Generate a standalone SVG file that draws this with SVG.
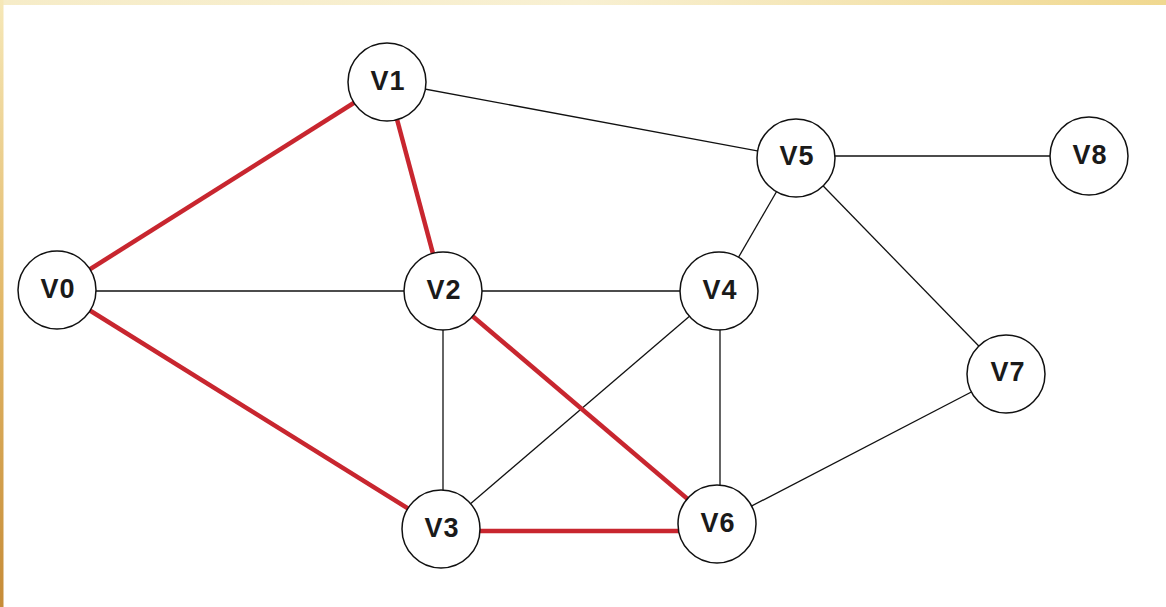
<svg xmlns="http://www.w3.org/2000/svg" width="1166" height="607" viewBox="0 0 1166 607">
<defs>
<linearGradient id="topg" x1="0" y1="0" x2="1" y2="0">
<stop offset="0" stop-color="#f6ecc8"/>
<stop offset="0.5" stop-color="#f8f0d2"/>
<stop offset="1" stop-color="#f0d890"/>
</linearGradient>
<linearGradient id="leftg" x1="0" y1="0" x2="0" y2="1">
<stop offset="0" stop-color="#f6e8b8"/>
<stop offset="0.5" stop-color="#e2b868"/>
<stop offset="1" stop-color="#c68c38"/>
</linearGradient>
<style>
.n circle{fill:#fff;stroke:#111;stroke-width:1.5}
.n text{font-family:"Liberation Sans",Arial,sans-serif;font-weight:bold;font-size:27px;letter-spacing:1px;fill:#1a1a1a;text-anchor:middle;dominant-baseline:central}
.e{stroke:#111;stroke-width:1.3;fill:none}
.r{stroke:#c8262f;stroke-width:4.5;fill:none}
</style>
</defs>
<rect width="1166" height="607" fill="#fff"/>
<rect x="0" y="0" width="1166" height="5" fill="url(#topg)"/>
<rect x="0" y="0" width="3.5" height="607" fill="url(#leftg)"/>
<g id="connectors">
<line class="e" x1="57" y1="291" x2="443" y2="291"/>
<line class="e" x1="387" y1="82" x2="796" y2="158"/>
<line class="e" x1="796" y1="156" x2="1089" y2="156"/>
<line class="e" x1="796" y1="158" x2="1006" y2="374"/>
<line class="e" x1="796" y1="158" x2="719" y2="291"/>
<line class="e" x1="443" y1="291" x2="719" y2="291"/>
<line class="e" x1="443" y1="291" x2="443" y2="529"/>
<line class="e" x1="441" y1="529" x2="719" y2="291"/>
<line class="e" x1="720" y1="291" x2="720" y2="524"/>
<line class="e" x1="717" y1="524" x2="1006" y2="374"/>
<line class="r" x1="57" y1="290" x2="387" y2="82"/>
<line class="r" x1="387" y1="82" x2="443" y2="291"/>
<line class="r" x1="57" y1="290" x2="441" y2="529"/>
<line class="r" x1="443" y1="291" x2="717" y2="524"/>
<line class="r" x1="441" y1="531" x2="717" y2="531"/>
</g>
<g id="V0" class="n"><circle cx="57" cy="290" r="39"/><text x="58" y="289">V0</text></g>
<g id="V1" class="n"><circle cx="387" cy="82" r="39"/><text x="388" y="81">V1</text></g>
<g id="V2" class="n"><circle cx="443" cy="291" r="39"/><text x="444" y="290">V2</text></g>
<g id="V3" class="n"><circle cx="441" cy="529" r="39"/><text x="442" y="528">V3</text></g>
<g id="V4" class="n"><circle cx="719" cy="291" r="39"/><text x="720" y="290">V4</text></g>
<g id="V5" class="n"><circle cx="796" cy="158" r="39"/><text x="797" y="156">V5</text></g>
<g id="V6" class="n"><circle cx="717" cy="524" r="39"/><text x="718" y="523">V6</text></g>
<g id="V7" class="n"><circle cx="1006" cy="374" r="39"/><text x="1008" y="372">V7</text></g>
<g id="V8" class="n"><circle cx="1089" cy="156" r="39"/><text x="1090" y="155">V8</text></g>
</svg>
